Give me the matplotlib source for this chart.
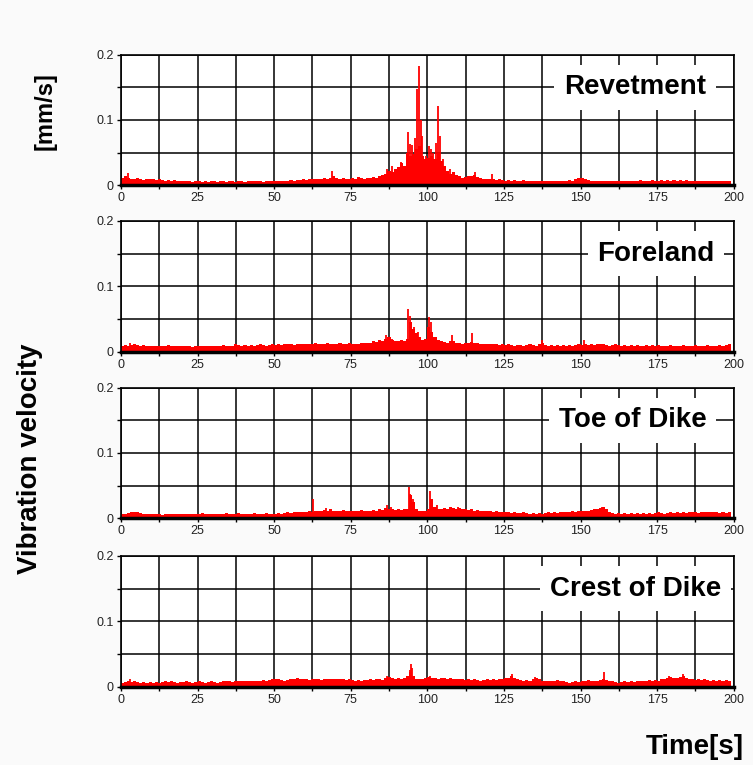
import numpy as np
import matplotlib.pyplot as plt
from matplotlib.ticker import MultipleLocator

plt.rcParams['font.family'] = ['Liberation Sans', 'DejaVu Sans']

# vibration velocity, 1 value per second, in 0.001 mm/s
revetment = [
    12, 15, 11, 10, 9, 11, 10, 8, 9, 10,
    9, 8, 10, 8, 7, 8, 7, 8, 7, 6,
    6, 7, 6, 5, 6, 6, 5, 6, 5, 6,
    6, 5, 6, 6, 5, 7, 6, 5, 6, 6,
    5, 6, 6, 7, 6, 6, 5, 6, 6, 7,
    6, 7, 7, 6, 7, 8, 7, 8, 8, 9,
    8, 9, 9, 10, 9, 10, 11, 10, 12, 14,
    11, 10, 12, 9, 10, 11, 10, 13, 11, 10,
    11, 12, 13, 12, 14, 16, 18, 22, 20, 25,
    28, 34, 30, 50, 45, 48, 55, 60, 45, 40,
    42, 45, 40, 50, 38, 30, 22, 18, 20, 16,
    14, 12, 13, 15, 14, 16, 13, 11, 10, 9,
    10, 9, 8, 9, 8, 7, 8, 7, 8, 7,
    7, 8, 7, 6, 7, 7, 6, 7, 6, 7,
    6, 7, 6, 7, 6, 7, 8, 7, 9, 11,
    12, 10, 8, 7, 7, 6, 7, 6, 7, 6,
    6, 7, 6, 7, 6, 7, 7, 6, 7, 8,
    7, 6, 7, 8, 7, 7, 8, 7, 8, 7,
    8, 7, 8, 7, 8, 7, 6, 7, 6, 7,
    7, 6, 7, 6, 7, 6, 6, 7, 6, 0]
foreland = [
    9, 10, 9, 10, 11, 10, 9, 10, 9, 8,
    9, 8, 9, 8, 9, 10, 9, 8, 9, 8,
    8, 9, 8, 7, 8, 9, 8, 9, 8, 8,
    9, 8, 9, 10, 9, 8, 9, 11, 10, 9,
    10, 9, 10, 9, 10, 11, 10, 9, 10, 11,
    10, 11, 10, 11, 12, 11, 10, 11, 12, 11,
    12, 11, 12, 13, 12, 11, 12, 13, 12, 11,
    12, 13, 12, 11, 13, 12, 11, 12, 13, 14,
    13, 14, 16, 15, 18, 17, 20, 22, 18, 17,
    16, 18, 17, 20, 45, 35, 28, 22, 18, 20,
    38, 30, 22, 18, 16, 15, 14, 17, 16, 14,
    13, 12, 14, 13, 15, 14, 13, 12, 11, 12,
    11, 12, 11, 10, 11, 10, 11, 10, 9, 10,
    10, 9, 10, 11, 10, 9, 11, 14, 10, 9,
    10, 9, 10, 9, 10, 9, 10, 9, 10, 11,
    10, 12, 10, 11, 10, 11, 12, 11, 10, 9,
    10, 11, 10, 9, 10, 9, 10, 9, 10, 9,
    9, 10, 9, 10, 9, 10, 9, 8, 9, 10,
    9, 8, 9, 10, 9, 8, 9, 10, 9, 8,
    9, 10, 9, 8, 9, 10, 9, 10, 11, 0]
toe = [
    6, 7, 8, 9, 10, 9, 8, 7, 6, 7,
    6, 7, 6, 5, 6, 7, 6, 7, 6, 7,
    6, 7, 6, 7, 6, 7, 8, 7, 6, 7,
    6, 7, 6, 7, 8, 7, 6, 7, 8, 7,
    7, 6, 7, 8, 7, 6, 7, 8, 7, 6,
    7, 8, 7, 8, 9, 8, 9, 10, 9, 10,
    10, 11, 10, 12, 11, 12, 13, 12, 14, 12,
    11, 12, 13, 12, 11, 12, 11, 12, 13, 12,
    11, 12, 13, 12, 14, 13, 16, 15, 14, 13,
    14, 13, 15, 14, 35, 25, 14, 12, 11, 12,
    14, 30, 18, 15, 14, 16, 15, 17, 16, 15,
    16, 15, 14, 13, 14, 12, 13, 12, 11, 12,
    11, 10, 11, 10, 9, 10, 9, 8, 9, 8,
    8, 9, 8, 7, 8, 7, 8, 7, 8, 9,
    8, 9, 8, 9, 10, 9, 10, 11, 10, 11,
    11, 12, 11, 13, 14, 15, 16, 17, 14, 10,
    8, 7, 8, 7, 8, 7, 8, 7, 8, 7,
    8, 7, 8, 7, 8, 9, 8, 7, 8, 9,
    8, 9, 8, 9, 8, 9, 10, 9, 8, 9,
    9, 10, 9, 10, 9, 8, 9, 8, 9, 0]
crest = [
    6, 7, 8, 7, 8, 7, 6, 7, 6, 7,
    6, 7, 6, 7, 8, 7, 8, 7, 6, 7,
    7, 8, 7, 6, 7, 8, 7, 6, 7, 8,
    7, 6, 7, 8, 9, 8, 7, 8, 9, 8,
    8, 9, 8, 9, 8, 9, 10, 9, 10, 11,
    12, 11, 10, 9, 10, 11, 12, 13, 12, 11,
    11, 10, 11, 12, 11, 10, 11, 12, 11, 12,
    11, 12, 11, 10, 11, 10, 9, 10, 9, 10,
    10, 11, 10, 11, 12, 10, 14, 15, 13, 12,
    13, 12, 14, 16, 22, 16, 12, 11, 12, 13,
    15, 14, 13, 12, 14, 13, 12, 13, 12, 11,
    12, 11, 10, 11, 10, 11, 10, 9, 10, 11,
    10, 11, 10, 11, 12, 13, 14, 16, 14, 11,
    10, 9, 10, 9, 12, 14, 11, 9, 8, 9,
    8, 9, 10, 9, 8, 7, 6, 7, 8, 7,
    8, 9, 10, 9, 8, 9, 10, 11, 10, 9,
    8, 7, 6, 7, 8, 7, 8, 7, 8, 9,
    8, 9, 10, 9, 10, 9, 11, 12, 14, 15,
    14, 13, 15, 16, 14, 12, 11, 10, 11, 10,
    11, 10, 9, 10, 9, 10, 9, 10, 9, 0]

# short spikes: time [s], value [0.001 mm/s]
revetment_spk_t = [2.3, 69, 87.0, 88.5, 91.5, 93.7, 94.3, 95.0, 96.0, 96.6, 97.4,
                   97.8, 98.3, 99.5, 100.5, 101.3, 102.0, 102.8, 103.5, 104.0,
                   105.0, 107.5, 115.5, 121]
revetment_spk_v = [19, 22, 25, 30, 35, 82, 63, 62, 73, 148, 183,
                   100, 75, 45, 60, 55, 50, 65, 122, 75,
                   40, 25, 20, 18]
foreland_spk_t = [3, 86.5, 88.5, 93.7, 94.5, 95.8, 97.0, 100.6, 101.2, 108, 114.5, 137.5, 151]
foreland_spk_v = [14, 26, 20, 66, 55, 38, 30, 53, 45, 25, 28, 18, 18]
toe_spk_t = [62.8, 67, 86.8, 88, 94.0, 94.5, 95.2, 100.9, 101.5, 103, 110, 157]
toe_spk_v = [29, 16, 20, 18, 48, 38, 30, 42, 30, 20, 18, 17]
crest_spk_t = [3, 87, 94.2, 94.6, 95.0, 101, 127.5, 135.3, 157.5, 179, 183.5]
crest_spk_v = [12, 17, 25, 35, 28, 17, 19, 15, 23, 17, 19]

names = ["Revetment", "Foreland", "Toe of Dike", "Crest of Dike"]
bases = [revetment, foreland, toe, crest]
spikes = [(revetment_spk_t, revetment_spk_v), (foreland_spk_t, foreland_spk_v),
          (toe_spk_t, toe_spk_v), (crest_spk_t, crest_spk_v)]
label_x = [0.955, 0.969, 0.956, 0.980]

fig = plt.figure(figsize=(7.53, 7.65), dpi=100, facecolor='#fafafa')
bottoms = [0.7577, 0.5403, 0.3224, 0.1024]
t = np.arange(200)

for i in range(4):
    ax = fig.add_axes([0.1606, bottoms[i], 0.8138, 0.171])
    ax.set_facecolor('white')
    ax.set_axisbelow(True)
    v = np.array(bases[i]) / 1000.0
    ax.bar(t, v, width=1.0, align='edge', color='#ff0000', linewidth=0)
    st, sv = spikes[i]
    ax.vlines(st, 0, np.array(sv) / 1000.0, color='#ff0000', lw=1.3)
    ax.set_xlim(0, 200)
    ax.set_ylim(0, 0.2)
    ax.xaxis.set_major_locator(MultipleLocator(25))
    ax.xaxis.set_minor_locator(MultipleLocator(12.5))
    ax.set_yticks([0, 0.1, 0.2])
    ax.set_yticklabels(['0', '0.1', '0.2'])
    ax.set_yticks([0.05, 0.15], minor=True)
    ax.grid(True, which='both', color='black', lw=1.1)
    ax.tick_params(which='both', direction='out', length=3, width=1, labelsize=9,
                   labelcolor='#222222', pad=2)
    for s in ax.spines.values():
        s.set_color('black')
        s.set_linewidth(1.2)
    ax.spines['bottom'].set_linewidth(2.5)
    ax.text(label_x[i], 0.75, names[i], transform=ax.transAxes, ha='right', va='center',
            fontsize=20, fontweight='bold', zorder=5,
            bbox=dict(facecolor='white', edgecolor='none', pad=7))

fig.text(0.04, 0.40, 'Vibration velocity', rotation=90, ha='center', va='center',
         fontsize=20, fontweight='bold')
fig.text(0.06, 0.855, '[mm/s]', rotation=90, ha='center', va='center',
         fontsize=17, fontweight='bold')
fig.text(0.988, 0.023, 'Time[s]', ha='right', va='center', fontsize=20, fontweight='bold')

fig.savefig('out.png', dpi=100, facecolor=fig.get_facecolor())
